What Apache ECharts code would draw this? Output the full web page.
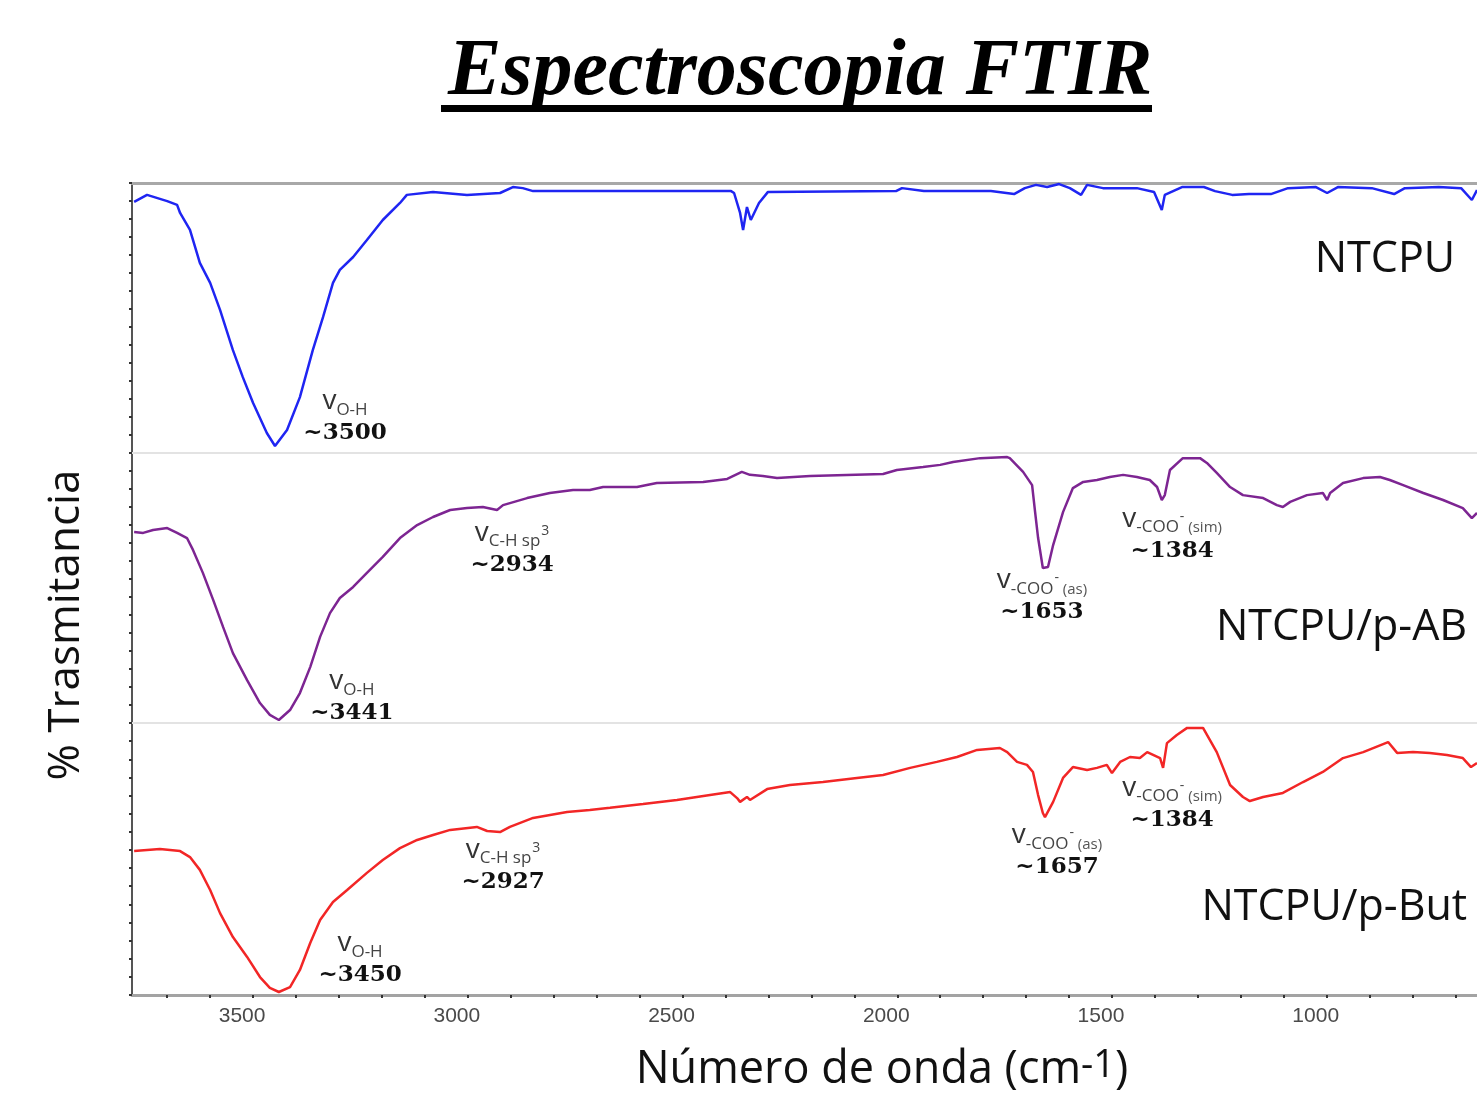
<!DOCTYPE html>
<html>
<head>
<meta charset="utf-8">
<title>Espectroscopia FTIR</title>
<script src="https://cdn.jsdelivr.net/npm/echarts@6/dist/echarts.min.js"></script>
<style>
  html, body { margin: 0; padding: 0; background: #fff; }
  #chart { width: 1477px; height: 1098px; }
</style>
</head>
<body>
<div id="chart"></div>
<script>
// numero de onda (cm-1) y transmitancia (0-100 dentro de cada panel)
const ntcpuWn = [3777,3747,3700,3677,3670,3647,3624,3600,3577,3547,3524,3500,3468,3449,3421,3391,3361,3337,3314,3298,
  3267,3235,3198,3158,3142,3081,3002,2925,2895,2872,2848,
  2387,2380,2366,2359,2350,2341,2322,2301,2003,
  1989,1938,1884,1782,1728,1703,1677,1651,1623,1598,1572,1558,1521,1442,1402,1384,1377,1337,1286,1260,
  1220,1181,1130,1090,1025,999,974,895,843,818,739,687,662,650];
const ntcpuT = [93.0,95.6,93.3,91.9,88.9,82.6,70.4,63.0,53.0,38.1,28.1,18.5,7.4,2.6,8.5,20.7,38.1,50.4,63.0,67.8,
  72.6,78.9,86.3,92.6,95.6,96.7,95.6,96.3,98.5,98.1,97.0,
  97.0,96.3,88.9,82.6,91.1,86.3,92.6,96.7,97.0,
  98.1,97.0,97.0,97.0,95.9,98.1,99.3,98.5,99.6,98.1,95.6,99.3,98.1,98.1,96.7,90.0,95.6,98.5,98.5,97.0,
  95.6,95.9,95.9,98.1,98.5,96.3,98.5,98.1,95.9,98.1,98.5,98.1,93.7,97.4];

const pabWn = [3777,3756,3733,3700,3677,3654,3640,3617,3593,3570,3547,3514,3484,3461,3440,3414,3391,3367,3344,3321,
  3298,3267,3235,3198,3158,3118,3081,3041,3002,2965,2932,2918,2862,2809,2755,
  2716,2685,2606,2560,2452,2396,2362,2343,2313,2280,2203,2033,2001,1940,1900,1870,1807,1744,1738,1707,
  1686,1679,1672,1661,1649,1637,1614,1591,1567,1535,1505,1474,1442,1412,1395,1384,1377,1365,1335,1295,
  1279,1256,1225,1195,1148,1116,1102,1085,1046,1009,999,992,962,915,876,853,822,775,729,683,662,650];
const pabT = [70.7,70.4,71.5,72.2,70.4,68.5,64.1,55.6,45.6,35.6,25.9,15.9,7.4,3.0,1.1,4.8,11.1,20.7,31.9,40.7,
  46.3,50.4,55.6,61.5,68.5,73.3,76.3,78.9,79.6,80.0,78.9,80.7,83.3,85.2,86.3,
  86.3,87.4,87.4,88.9,89.3,90.4,93.0,91.9,91.5,90.7,91.5,92.2,93.7,94.8,95.6,96.7,98.1,98.5,98.1,93.0,
  88.1,78.1,68.5,57.4,57.8,65.9,78.1,87.0,89.3,90.0,91.1,91.9,91.1,90.0,87.4,82.6,84.4,93.7,98.1,98.1,
  96.3,92.6,87.4,84.4,83.3,80.7,80.0,81.9,84.4,85.2,82.6,85.2,88.9,90.7,91.1,90.0,88.1,85.2,82.6,79.6,75.9,77.8];

const pbutWn = [3777,3717,3670,3647,3624,3600,3577,3547,3514,3484,3461,3440,3414,3391,3367,3344,3314,3281,3235,3198,
  3158,3118,3081,3041,2979,2955,2925,2902,2848,2769,
  2716,2669,2592,2513,2436,2389,2373,2366,2350,2343,2303,2250,2173,2094,2033,1970,1908,1861,1814,1761,
  1744,1721,1698,1684,1672,1661,1656,1637,1614,1591,1558,1535,1512,1500,1481,1458,1435,1418,1388,1381,
  1372,1349,1325,1288,1256,1225,1195,1179,1148,1102,1055,1009,962,915,857,836,799,760,720,683,664,650];
const pbutT = [52.9,53.7,52.9,50.7,46.0,38.6,30.1,21.3,14.0,6.6,2.6,1.1,2.9,9.2,19.1,27.6,34.2,38.6,44.9,49.6,
  54.0,57.0,58.8,60.7,61.8,60.3,59.9,61.8,65.1,67.3,
  68.0,68.8,70.2,71.7,73.5,74.6,72.4,71.0,72.8,71.7,75.7,77.2,78.3,79.8,80.9,83.5,85.7,87.5,90.1,90.8,
  89.3,85.7,84.6,82.0,73.5,66.9,65.4,71.0,79.8,83.8,82.7,83.5,84.6,81.6,85.7,87.5,87.1,89.3,87.1,83.5,
  92.6,95.6,98.2,98.2,89.3,77.2,72.8,71.3,72.8,74.3,78.3,82.0,87.1,89.3,93.0,89.0,89.3,89.0,88.2,87.1,83.8,85.3];

const xLabels = [3500, 3000, 2500, 2000, 1500, 1000];
const xTickValues = [3700,3600,3500,3400,3300,3200,3100,3000,2900,2800,2700,2600,2500,2400,2300,2200,2100,2000,
  1900,1800,1700,1600,1500,1400,1300,1200,1100,1000,900,800,700];
const sampleNames = ['NTCPU', 'NTCPU/p-AB', 'NTCPU/p-But'];

// anotaciones de bandas: [numero de onda, transmitancia, texto]
const peaksNTCPU = [[3286, 13.0, '{v|v}{s|O-H}\n{n|~3500}']];
const peaksAB = [
  [3270, 9.3, '{v|v}{s|O-H}\n{n|~3441}'],
  [2897, 64.4, '{v|v}{s|C-H sp}{p|3}\n{n|~2934}'],
  [1663, 46.7, '{v|v}{s|-COO}{p|-}{a| (as)}\n{n|~1653}'],
  [1360, 69.6, '{v|v}{s|-COO}{p|-}{a| (sim)}\n{n|~1384}']
];
const peaksBut = [
  [3251, 12.9, '{v|v}{s|O-H}\n{n|~3450}'],
  [2918, 47.4, '{v|v}{s|C-H sp}{p|3}\n{n|~2927}'],
  [1628, 52.6, '{v|v}{s|-COO}{p|-}{a| (as)}\n{n|~1657}'],
  [1360, 70.2, '{v|v}{s|-COO}{p|-}{a| (sim)}\n{n|~1384}']
];
// posicion de los nombres de muestra
const namePos = [[701, 71.5], [673, 35.2], [673, 32.0]];

function zip(wn, t) {
  return wn.map(function (w, i) { return [w, t[i]]; });
}

const rich = {
  v: { fontFamily: 'Open Sans', fontSize: 28, color: '#333', verticalAlign: 'bottom', padding: [0, 0, 3, 0] },
  s: { fontFamily: 'Open Sans', fontSize: 17, color: '#444', verticalAlign: 'bottom' },
  p: { fontFamily: 'Open Sans', fontSize: 14, color: '#444', verticalAlign: 'top', padding: [5, 0, 0, 1] },
  a: { fontFamily: 'Open Sans', fontSize: 15, color: '#555', verticalAlign: 'bottom' },
  n: { fontFamily: 'DejaVu Serif', fontWeight: 'bold', fontSize: 23, color: '#111', lineHeight: 30 }
};

function marks(peaks, idx) {
  const data = peaks.map(function (p) {
    return { coord: [p[0], p[1]], label: { formatter: p[2] } };
  });
  data.push({
    coord: namePos[idx],
    label: {
      formatter: sampleNames[idx], fontFamily: 'Open Sans', fontSize: 43,
      color: '#111', align: 'right', verticalAlign: 'middle'
    }
  });
  return {
    symbol: 'rect', symbolSize: 1, silent: true,
    itemStyle: { color: 'rgba(0,0,0,0)' },
    label: { show: true, position: 'inside', align: 'center', verticalAlign: 'middle', rich: rich },
    data: data
  };
}

const grids = [
  { left: 132, right: 0, top: 183, height: 270, outerBoundsMode: 'none' },
  { left: 132, right: 0, top: 453, height: 270, outerBoundsMode: 'none' },
  { left: 132, right: 0, top: 723, height: 272, outerBoundsMode: 'none' }
];

function xBase(gi, pos, color, width) {
  return {
    type: 'value', gridIndex: gi, position: pos, inverse: true,
    min: 650, max: 3782,
    axisLine: { show: true, onZero: false, lineStyle: { color: color, width: width } },
    axisTick: { show: false }, axisLabel: { show: false }, splitLine: { show: false }
  };
}

const xMain = xBase(2, 'bottom', '#a3a3a3', 3);
xMain.axisTick = { show: true, length: 3, customValues: xTickValues, lineStyle: { color: '#333', width: 2 } };
xMain.axisLabel = {
  show: true, customValues: xLabels, margin: 11, color: '#4a4a4a', fontSize: 21, fontFamily: 'Liberation Sans',
  padding: [0, 22, 0, 0],
  formatter: function (v) { return String(v); }
};

function yAx(gi) {
  return {
    type: 'value', gridIndex: gi, min: 0, max: 100, interval: 100 / 15,
    axisLine: { show: true, lineStyle: { color: '#555', width: 2 } },
    axisTick: { show: true, length: 3, lineStyle: { color: '#333', width: 2 } },
    axisLabel: { show: false }, splitLine: { show: false }
  };
}

const chart = echarts.init(document.getElementById('chart'));
chart.setOption({
  backgroundColor: '#fff',
  animation: false,
  title: {
    text: 'Espectroscopia FTIR', left: 443, top: 28,
    textStyle: { fontFamily: 'Liberation Serif', fontStyle: 'italic', fontWeight: 'bold', fontSize: 80, color: '#000' }
  },
  graphic: [
    { type: 'rect', shape: { x: 441, y: 105, width: 711, height: 7 }, style: { fill: '#000' } },
    {
      type: 'text', x: 66, y: 625, rotation: Math.PI / 2,
      style: { text: '% Trasmitancia', fontFamily: 'Open Sans', fontSize: 44, fill: '#111', align: 'center', verticalAlign: 'middle' }
    },
    {
      type: 'text', x: 882, y: 1070,
      style: {
        text: '{n|Número de onda (cm}{s|-1}{n|)}', align: 'center', verticalAlign: 'middle',
        rich: {
          n: { fontFamily: 'Open Sans', fontSize: 45, fill: '#111', verticalAlign: 'bottom' },
          s: { fontFamily: 'Open Sans', fontSize: 38, fill: '#111', verticalAlign: 'top' }
        }
      }
    }
  ],
  grid: grids,
  xAxis: [
    xBase(0, 'top', '#a8a8a8', 3),
    xBase(1, 'top', '#e3e3e3', 2),
    xBase(2, 'top', '#e3e3e3', 2),
    xMain
  ],
  yAxis: [yAx(0), yAx(1), yAx(2)],
  series: [
    {
      name: sampleNames[0], type: 'line', xAxisIndex: 0, yAxisIndex: 0, showSymbol: false,
      lineStyle: { color: '#1f25f2', width: 2.5 }, data: zip(ntcpuWn, ntcpuT), markPoint: marks(peaksNTCPU, 0)
    },
    {
      name: sampleNames[1], type: 'line', xAxisIndex: 1, yAxisIndex: 1, showSymbol: false,
      lineStyle: { color: '#7d2592', width: 2.5 }, data: zip(pabWn, pabT), markPoint: marks(peaksAB, 1)
    },
    {
      name: sampleNames[2], type: 'line', xAxisIndex: 3, yAxisIndex: 2, showSymbol: false,
      lineStyle: { color: '#f22626', width: 2.5 }, data: zip(pbutWn, pbutT), markPoint: marks(peaksBut, 2)
    }
  ]
});
</script>
</body>
</html>
